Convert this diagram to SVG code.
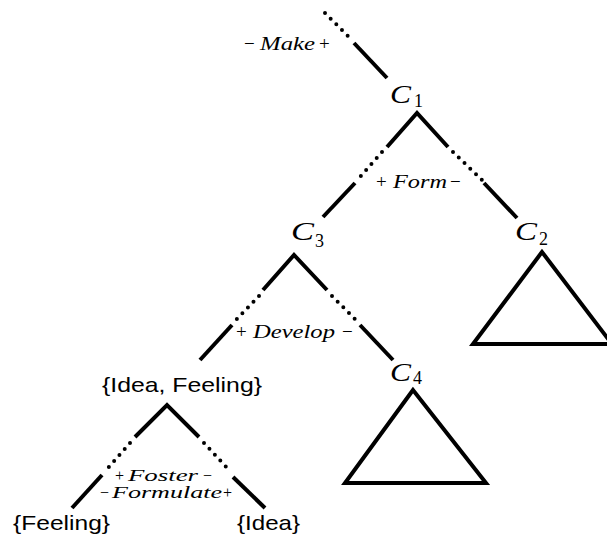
<svg xmlns="http://www.w3.org/2000/svg" width="607" height="540" viewBox="0 0 607 540">
<style>
.s{stroke:#000;stroke-width:4;fill:none;stroke-linecap:butt}
.d{stroke:#000;stroke-width:4;fill:none;stroke-linecap:round;stroke-dasharray:0 8}
.t{stroke:#000;stroke-width:4;fill:none;stroke-linejoin:miter}
.lab{font-family:"Liberation Serif",serif;font-style:italic;font-size:19px;fill:#000}
.op{font-family:"Liberation Serif",serif;font-size:19px;fill:#000}
.sm{font-size:16px}
.c{font-family:"Liberation Serif",serif;font-style:italic;font-size:25px;fill:#000}
.sub{font-family:"Liberation Serif",serif;font-size:18px;fill:#000}
.set{font-family:"Liberation Sans",Arial,sans-serif;font-size:21px;fill:#000}
</style>
<rect width="607" height="540" fill="#fff"/>
<g id="connectors">
  <path class="d" d="M325,13 L349,37"/>
  <path class="s" d="M354,43 L387,78"/>
  <path class="s" d="M387,147 L417,113 L448,147"/>
  <path class="d" d="M382,152 L360,177"/>
  <path class="s" d="M355,183 L323,217"/>
  <path class="d" d="M453,152 L482,180"/>
  <path class="s" d="M484,183 L517,218"/>
  <path class="s" d="M263,290 L294,255 L327,290"/>
  <path class="d" d="M259,296 L236,320"/>
  <path class="s" d="M232,325 L200,360"/>
  <path class="d" d="M332,296 L356,320"/>
  <path class="s" d="M360,325 L393,360"/>
  <path class="s" d="M135,437 L167,405 L199,437"/>
  <path class="d" d="M130,443 L108,468"/>
  <path class="s" d="M102,475 L72,508"/>
  <path class="d" d="M204,443 L229,470"/>
  <path class="s" d="M233,477 L265,508"/>
</g>
<g id="labels">
  <text class="op" x="244" y="50">−</text>
  <text class="lab" x="260" y="50" textLength="55" lengthAdjust="spacingAndGlyphs">Make</text>
  <text class="op" x="319" y="50">+</text>
  <text class="op" x="376" y="188">+</text>
  <text class="lab" x="393" y="188" textLength="54" lengthAdjust="spacingAndGlyphs">Form</text>
  <text class="op" x="450" y="188">−</text>
  <text class="op" x="236" y="338">+</text>
  <text class="lab" x="253" y="338" textLength="82" lengthAdjust="spacingAndGlyphs">Develop</text>
  <text class="op" x="342" y="338">−</text>
  <text class="op sm" x="115" y="481">+</text>
  <text class="lab sm" x="128" y="481" textLength="70" lengthAdjust="spacingAndGlyphs">Foster</text>
  <text class="op sm" x="203" y="481">−</text>
  <text class="op sm" x="100" y="498">−</text>
  <text class="lab sm" x="112" y="498" textLength="110" lengthAdjust="spacingAndGlyphs">Formulate</text>
  <text class="op sm" x="223" y="498">+</text>
</g>
<g id="C1">
  <text class="c" x="390" y="103" textLength="21" lengthAdjust="spacingAndGlyphs">C</text>
  <text class="sub" x="414" y="107">1</text>
</g>
<g id="C3">
  <text class="c" x="291" y="240" textLength="23" lengthAdjust="spacingAndGlyphs">C</text>
  <text class="sub" x="315" y="247">3</text>
</g>
<g id="C2">
  <text class="c" x="515" y="240" textLength="22" lengthAdjust="spacingAndGlyphs">C</text>
  <text class="sub" x="539" y="245">2</text>
  <path class="t" d="M542,252 L473,344 L612,344 Z"/>
</g>
<g id="C4">
  <text class="c" x="390" y="381" textLength="21" lengthAdjust="spacingAndGlyphs">C</text>
  <text class="sub" x="413" y="384">4</text>
  <path class="t" d="M413,390 L345,483 L486,483 Z"/>
</g>
<g id="IdeaFeeling">
  <text class="set" x="102" y="392" textLength="160" lengthAdjust="spacingAndGlyphs">{Idea, Feeling}</text>
</g>
<g id="Feeling">
  <text class="set" x="13" y="530" textLength="97" lengthAdjust="spacingAndGlyphs">{Feeling}</text>
</g>
<g id="Idea">
  <text class="set" x="237" y="530" textLength="63" lengthAdjust="spacingAndGlyphs">{Idea}</text>
</g>
</svg>
